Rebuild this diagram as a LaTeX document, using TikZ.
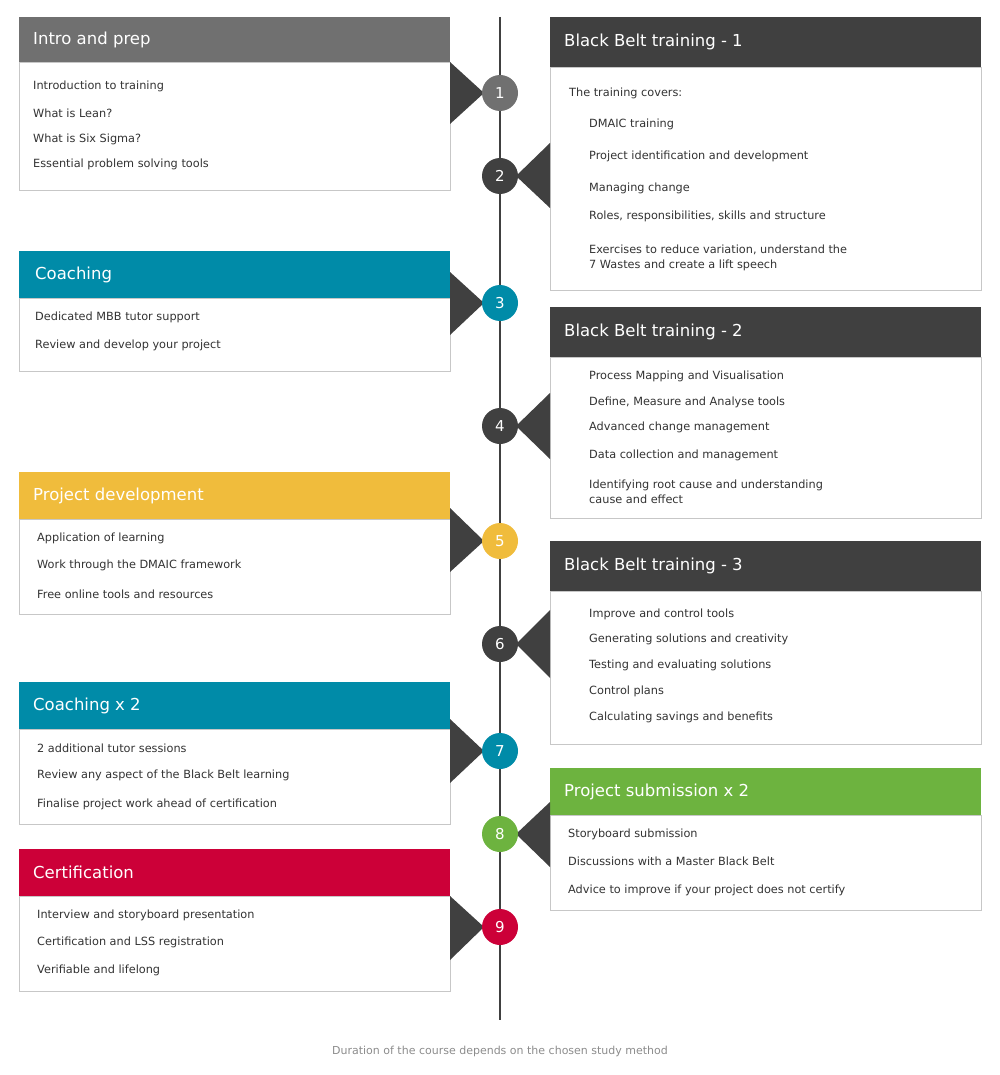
\documentclass[tikz,border=0pt]{standalone}
\usepackage{fontspec}
\setmainfont{DejaVu Sans}
\definecolor{cgray}{HTML}{707070}
\definecolor{cdark}{HTML}{404040}
\definecolor{cteal}{HTML}{008BA8}
\definecolor{cyel}{HTML}{F0BC3C}
\definecolor{cgreen}{HTML}{6DB33F}
\definecolor{cred}{HTML}{CC0038}
\definecolor{ctext}{HTML}{333333}
\tikzset{
 body/.style={draw=black!22,fill=white,line width=0.8pt},
 head/.style={fill=#1},
 htitle/.style={anchor=west,text=white,font=\fontsize{16.5}{18}\selectfont,inner sep=0pt},
 item/.style={anchor=west,text=ctext,font=\fontsize{11.3}{15}\selectfont,inner sep=0pt,align=left},
 num/.style={circle,fill=#1,minimum size=36pt,inner sep=0pt,text=white,font=\fontsize{15}{16}\selectfont},
 tri/.style={fill=cdark},
}
% #1 name, #2 x-left, #3 top, #4 header bottom, #5 bottom, #6 colour, #7 title, #8 title x
\newcommand\sectbox[8]{%
 \fill[head=#6] (#2,#3) rectangle (#2+431,#4);
 \draw[body] (#2,#4) rectangle (#2+431,#5);
 \node[htitle] (#1) at (#8,{(#3+#4)/2}) {#7};
}
\begin{document}
\begin{tikzpicture}[x=1pt,y=-1pt]
\useasboundingbox (0,0) rectangle (1000,1075);
\coordinate (ltop) at (500,17); \coordinate (lbot) at (500,1020);
\draw[cdark,line width=2.6pt] (ltop) -- (lbot);
% left boxes
\sectbox{s1}{19}{17}{62}{190}{cgray}{Intro and prep}{33}
\node[item] (s1a) at (33,86) {Introduction to training};
\node[item] (s1b) at (33,113) {What is Lean?};
\node[item] (s1c) at (33,139) {What is Six Sigma?};
\node[item] (s1d) at (33,164) {Essential problem solving tools};
\sectbox{s3}{19}{251}{298}{371}{cteal}{Coaching}{35}
\node[item] (s3a) at (35,317) {Dedicated MBB tutor support};
\node[item] (s3b) at (35,345) {Review and develop your project};
\sectbox{s5}{19}{472}{519}{614}{cyel}{Project development}{33}
\node[item] (s5a) at (37,538) {Application of learning};
\node[item] (s5b) at (37,565) {Work through the DMAIC framework};
\node[item] (s5c) at (37,594) {Free online tools and resources};
\sectbox{s7}{19}{682}{729}{824}{cteal}{Coaching x 2}{33}
\node[item] (s7a) at (37,748) {2 additional tutor sessions};
\node[item] (s7b) at (37,775) {Review any aspect of the Black Belt learning};
\node[item] (s7c) at (37,804) {Finalise project work ahead of certification};
\sectbox{s9}{19}{849}{896}{991}{cred}{Certification}{33}
\node[item] (s9a) at (37,915) {Interview and storyboard presentation};
\node[item] (s9b) at (37,942) {Certification and LSS registration};
\node[item] (s9c) at (37,970) {Verifiable and lifelong};
% right boxes
\sectbox{s2}{550}{17}{67}{290}{cdark}{Black Belt training - 1}{564}
\node[item] (s2t) at (569,93) {The training covers:};
\node[item] (s2a) at (589,124) {DMAIC training};
\node[item] (s2b) at (589,156) {Project identification and development};
\node[item] (s2c) at (589,188) {Managing change};
\node[item] (s2d) at (589,216) {Roles, responsibilities, skills and structure};
\node[item] (s2e) at (589,258) {Exercises to reduce variation, understand the\\7 Wastes and create a lift speech};
\sectbox{s4}{550}{307}{357}{518}{cdark}{Black Belt training - 2}{564}
\node[item] (s4a) at (589,376) {Process Mapping and Visualisation};
\node[item] (s4b) at (589,402) {Define, Measure and Analyse tools};
\node[item] (s4c) at (589,427) {Advanced change management};
\node[item] (s4d) at (589,455) {Data collection and management};
\node[item] (s4e) at (589,492) {Identifying root cause and understanding\\cause and effect};
\sectbox{s6}{550}{541}{591}{744}{cdark}{Black Belt training - 3}{564}
\node[item] (s6a) at (589,614) {Improve and control tools};
\node[item] (s6b) at (589,639) {Generating solutions and creativity};
\node[item] (s6c) at (589,665) {Testing and evaluating solutions};
\node[item] (s6d) at (589,691) {Control plans};
\node[item] (s6e) at (589,717) {Calculating savings and benefits};
\sectbox{s8}{550}{768}{815}{910}{cgreen}{Project submission x 2}{564}
\node[item] (s8a) at (568,834) {Storyboard submission};
\node[item] (s8b) at (568,861) {Discussions with a Master Black Belt};
\node[item] (s8c) at (568,890) {Advice to improve if your project does not certify};
% triangles and numbers
\fill[tri] (450,62) -- (450,124) -- (484,93) -- cycle;
\fill[tri] (550,143) -- (550,208) -- (516,176) -- cycle;
\fill[tri] (450,272) -- (450,335) -- (484,303) -- cycle;
\fill[tri] (550,393) -- (550,459) -- (516,426) -- cycle;
\fill[tri] (450,508) -- (450,572) -- (484,541) -- cycle;
\fill[tri] (550,610) -- (550,678) -- (516,644) -- cycle;
\fill[tri] (450,719) -- (450,783) -- (484,751) -- cycle;
\fill[tri] (550,802) -- (550,867) -- (516,834) -- cycle;
\fill[tri] (450,896) -- (450,960) -- (484,927) -- cycle;
\node[num=cgray] (n1) at (500,93) {1};
\node[num=cdark] (n2) at (500,176) {2};
\node[num=cteal] (n3) at (500,303) {3};
\node[num=cdark] (n4) at (500,426) {4};
\node[num=cyel] (n5) at (500,541) {5};
\node[num=cdark] (n6) at (500,644) {6};
\node[num=cteal] (n7) at (500,751) {7};
\node[num=cgreen] (n8) at (500,834) {8};
\node[num=cred] (n9) at (500,927) {9};
\node[text=black!45,font=\fontsize{11}{13}\selectfont,inner sep=0pt] (foot) at (500,1051) {Duration of the course depends on the chosen study method};
\end{tikzpicture}
\end{document}
